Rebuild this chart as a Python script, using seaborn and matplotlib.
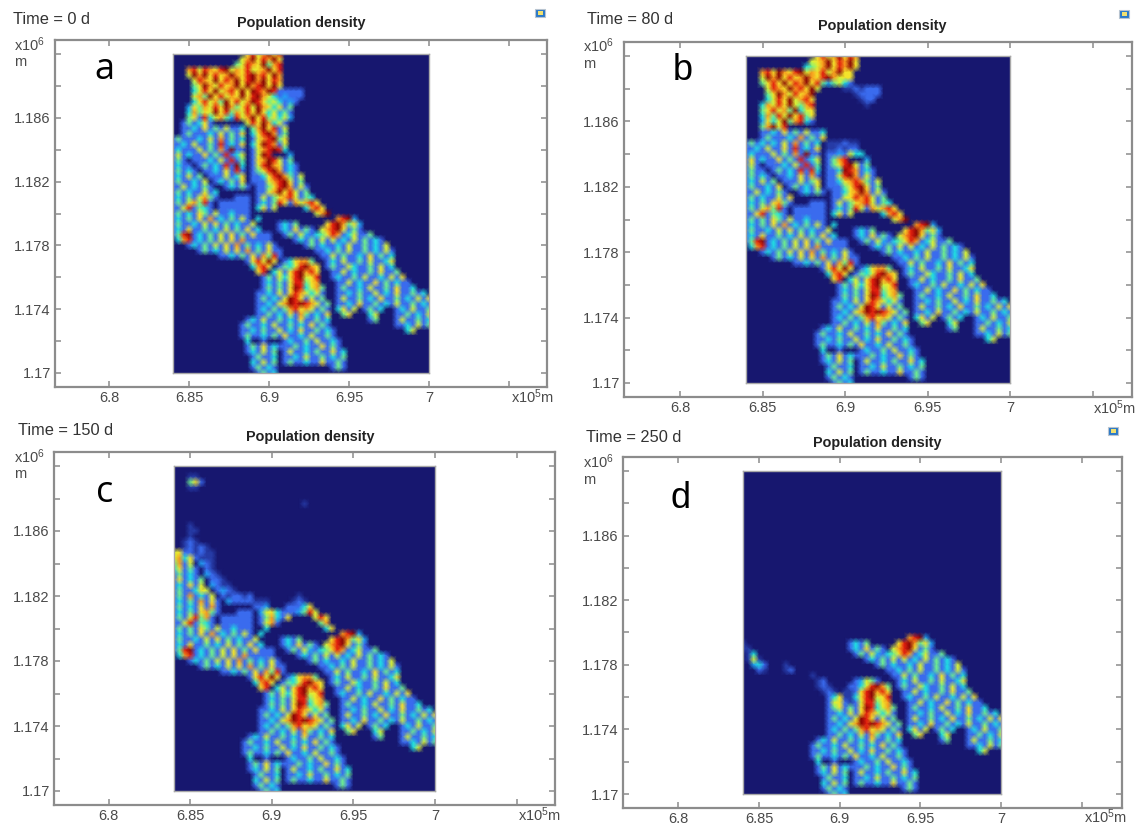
import re
import numpy as np
import pandas as pd
import matplotlib
matplotlib.use("Agg")
import matplotlib.pyplot as plt
from matplotlib.colors import LinearSegmentedColormap
from matplotlib.patches import Rectangle
import seaborn as sns

sns.set_theme(style="white")
plt.rcParams["font.family"] = ["Liberation Sans", "DejaVu Sans"]
plt.rcParams["mathtext.default"] = "regular"

TITLE = "Population density"
TIMES = ["Time = 0 d", "Time = 80 d", "Time = 150 d", "Time = 250 d"]
LETTERS = ["a", "b", "c", "d"]
X_TICKS = [6.8, 6.85, 6.9, 6.95, 7.0, 7.05]
X_LABELS = ["6.8", "6.85", "6.9", "6.95", "7", ""]
Y_TICKS = [1.17, 1.172, 1.174, 1.176, 1.178, 1.18, 1.182, 1.184, 1.186, 1.188, 1.19]
Y_LABELS = ["1.17", "", "1.174", "", "1.178", "", "1.182", "", "1.186", "", ""]

# Density. Each row holds "first-last:values" runs on a 61 x 49 node grid,
# north first. 0 = sea, . = faint, 1 = low land ... 9 = peak.
NORTH_A = [
"14-20:6857968", "13-20:57968796", "12-20:458769478", "3-20:785876895768567968",
"3-20:597968679768978697", "4-20:58769687968979687", "4-20:46975867969789696",
"4-19:3586957869698798 20-24:11111", "4-18:574968576968975 19-24:312111",
"4-23:36857496857986453121", "3-22:264758697468597636141", "3-22:37465968475869635241",
"3-22:46183574285796846352", "2-7:141361 8-13:000000 14-21:58697351",
"2-13:113161415113 14-14:0 15-21:4796815", "2-13:141113151416 14-14:0 15-21:3689714",
"0-13:14111315171413 14-14:0 15-21:1578946", "0-13:11315114181316 14-14:0 15-21:3698715",
"0-13:13111514171911 14-14:0 15-21:1578983", "0-13:15131161418135 14-14:0 15-18:1598 19-21:000 22-22:2",
"0-2:141 3-3:0 4-13:1113151814 14-14:0 15-22:16798514", "0-3:1311 4-4:0 5-13:141318193 14-14:0 15-23:158976131",
"0-4:14131 5-5:0 6-13:11316181 14-14:0 15-23:146897131", "0-5:131514 6-6:0 7-13:1115136 14-14:0 15-24:1136897415",
"0-6:1411315 7-7:0 8-13:131416 14-14:0 15-24:1115789614", "0-7:11513141 8-9:00 10-14:13141 15-15:0 16-25:1146897151",
"0-8:141311513 9-14:000000 15-15:0 16-25:1157968514", "0-7:13141574 8-9:10 10-14:00111 15-15:0 16-26:15146785143",
"0-7:14157481 8-8:0 9-14:111111 15-15:0 16-27:131486175786", "0-7:11581431 8-8:0 9-14:111111 15-15:0 16-19:3615 25-28:3786",
"0-8:141316415 9-14:113111 15-16:00 27-29:579",
]
NORTH_B = [
"13-20:68579687", "12-20:567968796", "11-20:3457968796", "3-19:78697689576857966",
"3-19:59796867976897566", "3-19:46869687968424531", "4-13:5876978695 18-24:..1.111",
"4-12:469758679 20-24:.1111", "4-12:358695786 21-23:.11", "3-12:3758695478 22-22:.",
"3-12:4685749356", "3-12:3748596846", "3-12:2635947831", "3-7:47958 8-12:00000",
"3-14:113161415113", "3-14:141113171416", "0-13:14131315171413 14-14:0 15-20:...1..",
"0-13:11315116181316 14-14:0 15-20:..1.11", "0-13:13111514171911 14-14:0 15-21:1121533",
"0-13:16131161418135 14-14:0 15-18:1478 19-21:000 22-22:2", "0-2:151 3-3:0 4-13:1113151814 14-14:0 15-22:14689514",
"0-3:1411 4-4:0 5-13:141318183 14-14:0 15-23:113987131", "0-4:14131 5-5:0 6-13:11316171 14-14:0 15-23:115897151",
"0-5:131514 6-6:0 7-13:1115146 14-14:0 15-24:1136787415", "0-6:1411316 7-7:0 8-13:141315 14-14:0 15-24:1114689614",
"0-7:11513141 8-9:00 10-14:13141 15-15:0 16-25:1136797151", "0-8:141311516 9-14:000000 15-15:0 16-25:1156878514",
"0-7:13141674 8-9:10 10-14:00111 15-15:0 16-26:15146785143", "0-7:14157481 8-8:0 9-14:111111 15-15:0 16-27:131485175786",
"0-7:11681431 8-8:0 9-14:111111 15-15:0 16-19:3615 25-28:3786", "0-8:141416415 9-14:113111 15-16:00 27-29:579",
]
NORTH_C = [
"", "", "3-4:..", "3-5:461", "3-4:..", "", "", "24-24:.", "", "", "", "3-3:.", "3-4:..", "3-3:.", "2-4:.1.",
"2-6:.1.1.", "0-7:5611.1..", "0-7:57361...", "0-3:4715 4-4:0 5-7:21.", "0-4:36141 5-5:0 6-7:1.",
"0-4:14131 5-5:0 6-8:21.", "0-5:161314 6-6:0 7-9:11.", "0-5:131615 6-6:0 7-10:21..", "0-6:1411365 7-7:0 8-11:121.",
"0-7:14171315 8-8:0 9-14:1.11.1 23-23:.", "0-8:131417161 9-9:0 10-14:21111 15-17:... 22-24:.1.",
"0-8:141316171 9-14:000000 15-17:112 21-25:11136", "0-7:13141674 8-9:10 10-14:00111 15-15:0 16-19:2563 20-26:1112485",
"0-7:14158471 8-8:0 9-14:111111 15-15:0 16-21:147316 26-28:586", "0-7:11581431 8-8:0 9-14:111111 15-15:0 16-18:157 19-19:1 27-28:47",
"0-8:141416415 9-14:113111 15-16:00 17-17:3 28-29:36",
]
WEST_ABC = [
"0-14:131416171314151 15-15:0 16-16:3", "0-15:1411315161413115", "0-16:13161141315141613",
"0-18:1489131415161416", "1-18:37813141516171", "3-19:1314151617141315", "5-20:14131516171416", "9-20:113141617481",
]
WEST_D = [
"", "0-0:.", "0-1:..", "1-2:.3", "1-3:.5.", "2-4:231 8-8:.", "3-4:1. 8-9:.1", "12-13:0.",
]
EAST = [
"31-34:7892", "20-23:1314 29-35:6897462", "20-26:1316141 28-35:57896141", "21-27:1415213 28-37:4687135114",
"23-28:131415 29-39:15131514131", "25-29:14131 29-40:113151141315", "27-41:113141511413151", "28-41:11514113161413",
"29-41:1315114151136", "29-41:1411531141513", "30-42:1151311416114", "30-43:13114151131516",
"31-44:11513116141311", "31-45:141131511416113", "31-47:11314115131611413", "31-48:151141316114131516",
"31-48:113161141315114131", "31-34:3615 36-39:1413 42-48:1315114", "32-33:46 37-38:35 42-48:1141315",
"37-38:14 42-48:1511413", "42-48:1131514", "44-45:35",
]
MIDLOBE_ABC = [
"14-19:168596 20-20:0 21-26:136774", "15-18:3786 19-19:0 20-27:14358976", "16-17:68 18-18:0 19-27:351689786",
"17-27:14153689568", "17-27:13141588467", "17-28:141416983574",
]
MIDLOBE_D = [
"14-15:.1 21-25:12541", "14-16:.1. 20-27:11358974", "15-17:.1. 19-27:..1689786",
"16-27:136..3689568", "16-27:1561.1588467", "16-28:1461416983574",
]
MIDLOBE_TAIL = ["16-28:1131516875351", "16-28:1413159861514", "16-29:11315798987514"]
SOUTH = [
"16-29:13141478675141", "16-29:11413151741316", "14-29:1315114131611413", "13-29:14113151141316141",
"13-30:113141151316114131", "13-30:141131416113151141", "14-14:3 15-20:001000 21-31:13114151131",
"14-20:1416131 21-31:11413116141", "14-19:131514 20-20:0 21-32:151131411613", "15-19:14113 20-20:0 21-32:113151141314",
"15-19:31514 20-20:0 21-32:141131161141", "15-19:14131 30-32:141", "16-19:1413",
]
PANELS = [
    [(0, NORTH_A), (31, WEST_ABC), (31, EAST), (39, MIDLOBE_ABC), (45, MIDLOBE_TAIL), (48, SOUTH)],
    [(0, NORTH_B), (31, WEST_ABC), (31, EAST), (39, MIDLOBE_ABC), (45, MIDLOBE_TAIL), (48, SOUTH)],
    [(0, NORTH_C), (31, WEST_ABC), (31, EAST), (39, MIDLOBE_ABC), (45, MIDLOBE_TAIL), (48, SOUTH)],
    [(31, WEST_D), (31, EAST), (39, MIDLOBE_D), (45, MIDLOBE_TAIL), (48, SOUTH)],
]

W, H = 1136, 827
N_ROWS, N_COLS = 61, 49
CMAP = LinearSegmentedColormap.from_list("pop", [
    "#17176f", "#3a6cf0", "#1fa8f6", "#20e0e0", "#70f08c",
    "#d8f236", "#f4e42a", "#f8a01e", "#e4200f", "#8a0606"])

# pixel layout: frame x0,x1,y0,y1 ; map x0,x1,y0,y1
LAYOUT = [
    dict(f=(55, 547, 40, 387), m=(173, 429, 54, 373), t=(301, 23), s=(13, 19), l=(104, 70), ic=(540, 13), u=(511, 397), yl=(14, 45, 62)),
    dict(f=(624, 1132, 42, 397), m=(746, 1010, 56, 383), t=(882, 26), s=(587, 19), l=(683, 70), ic=(1124, 14), u=(1093, 408), yl=(583, 46, 64)),
    dict(f=(54, 555, 452, 805), m=(174, 435, 466, 791), t=(310, 437), s=(18, 430), l=(105, 493), ic=None, u=(518, 815), yl=(14, 457, 474)),
    dict(f=(623, 1122, 457, 808), m=(743, 1001, 471, 794), t=(877, 443), s=(586, 437), l=(681, 498), ic=(1113, 431), u=(1084, 817), yl=(583, 462, 480)),
]
LETTER_FONT = {"a": "Open Sans", "b": "Liberation Sans", "c": "Open Sans", "d": "Liberation Sans"}

GRID_COLOR = "#8c8c8c"
TXT = "#4a4a4a"


def to_grid(layers):
    grid = np.zeros((N_ROWS, N_COLS))
    for start, rows in layers:
        for i, row in enumerate(rows):
            for run in row.split():
                m = re.fullmatch(r"(\d+)-(\d+):(.+)", run)
                a, b, vals = int(m[1]), int(m[2]), m[3]
                for k, col in enumerate(range(a, b + 1)):
                    ch = vals[k] if k < len(vals) else "1"
                    grid[start + i, col] = 0.45 if ch == "." else float(ch)
    return pd.DataFrame(grid)


fig = plt.figure(figsize=(W / 100, H / 100), dpi=100, facecolor="white")

for layers, time, letter, L in zip(PANELS, TIMES, LETTERS, LAYOUT):
    fx0, fx1, fy0, fy1 = L["f"]
    mx0, mx1, my0, my1 = L["m"]
    ax = fig.add_axes([fx0 / W, 1 - fy1 / H, (fx1 - fx0) / W, (fy1 - fy0) / H])
    xs = 0.16 / (mx1 - mx0)
    ys = 0.02 / (my1 - my0)
    ax.set_xlim(6.84 + (fx0 - mx0) * xs, 7.0 + (fx1 - mx1) * xs)
    ax.set_ylim(1.17 - (fy1 - my1) * ys, 1.19 + (my0 - fy0) * ys)
    ax.set_xticks(X_TICKS, X_LABELS)
    ax.set_yticks(Y_TICKS, Y_LABELS)
    ax.tick_params(direction="in", length=4, width=1.1, color=GRID_COLOR, top=True, right=True,
                   bottom=True, left=True, labelsize=10.5, labelcolor=TXT, pad=3)
    for s in ax.spines.values():
        s.set_visible(True)
        s.set_color(GRID_COLOR)
        s.set_linewidth(1.6)

    inset = ax.inset_axes([6.84, 1.17, 0.16, 0.02], transform=ax.transData)
    data = to_grid(layers)
    sns.heatmap(data, ax=inset, cmap=CMAP, vmin=0, vmax=9, cbar=False,
                xticklabels=False, yticklabels=False, shading="gouraud")
    inset.set_xlim(0, data.shape[1] - 1)
    inset.set_ylim(data.shape[0] - 1, 0)
    for s in inset.spines.values():
        s.set_visible(True)
        s.set_color("#a8a8a8")
        s.set_linewidth(1.0)

    fig.text(L["t"][0] / W, 1 - L["t"][1] / H, TITLE, ha="center", va="center", fontsize=10.4, fontweight="bold", color="#222222")
    fig.text(L["s"][0] / W, 1 - L["s"][1] / H, time, ha="left", va="center", fontsize=11.8, color="#333333")
    fig.text(L["l"][0] / W, 1 - L["l"][1] / H, letter, ha="center", va="center", fontsize=26, color="black", family=[LETTER_FONT[letter], "DejaVu Sans"])
    fig.text(L["u"][0] / W, 1 - L["u"][1] / H, r"x10$^5$m", ha="left", va="center", fontsize=10.5, color=TXT)
    fig.text(L["yl"][0] / W, 1 - L["yl"][1] / H, r"x10$^6$", ha="left", va="center", fontsize=10.5, color=TXT)
    fig.text(L["yl"][0] / W, 1 - L["yl"][2] / H, "m", ha="left", va="center", fontsize=10.5, color=TXT)
    if L["ic"]:
        ix, iy = L["ic"]
        fig.add_artist(Rectangle(((ix - 5) / W, 1 - (iy + 4) / H), 10 / W, 8 / H, transform=fig.transFigure, facecolor="#2a78c8", edgecolor="#b8c4d0", linewidth=0.8))
        fig.add_artist(Rectangle(((ix - 2) / W, 1 - (iy + 2) / H), 5 / W, 4 / H, transform=fig.transFigure, facecolor="#f0e070", edgecolor="none"))

fig.savefig("out.png", dpi=100)
